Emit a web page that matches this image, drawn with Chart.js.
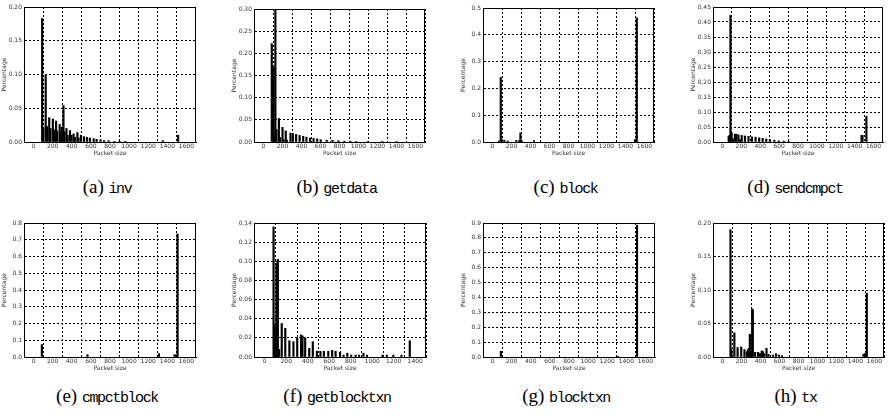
<!DOCTYPE html>
<html>
<head>
<meta charset="utf-8">
<script src="https://cdn.jsdelivr.net/npm/chart.js@4.4.1/dist/chart.umd.min.js"></script>
<style>
  body { margin: 0; background: #fff; width: 893px; height: 420px; position: relative; overflow: hidden; }
  canvas { position: absolute; }
  .cap { position: absolute; white-space: nowrap; transform: translateX(-50%); color: #000; line-height: 1; }
  .cap .s { font-family: "Liberation Serif", "DejaVu Serif", serif; font-size: 19px; }
  .cap .m { font-family: "Liberation Mono", "DejaVu Sans Mono", monospace; font-size: 15px; letter-spacing: -1.4px; }
</style>
</head>
<body>
<script>
// packet size (bytes) / share of packets
const invSize = [90,102,127,143,164,177,202,217,236,248,273,285,295,313,322,344,357,381,397,419,434,459,471,496,527,558,589,629,660,701,738,785,846,900,960,1352,1513];
const invPct  = [0.183,0.022,0.099,0.023,0.036,0.020,0.034,0.018,0.031,0.016,0.026,0.013,0.022,0.054,0.015,0.020,0.010,0.017,0.010,0.012,0.007,0.014,0.006,0.010,0.008,0.007,0.006,0.005,0.004,0.003,0.002,0.002,0.001,0.001,0.001,0.002,0.010];

const getdataSize = [87,97,106,115,125,137,162,175,200,212,234,247,284,309,343,380,418,452,490,527,565,602,665,727,789,852,914,976,1100,1250,1400];
const getdataPct  = [0.222,0.171,0.169,0.015,0.300,0.028,0.053,0.010,0.033,0.005,0.025,0.004,0.020,0.019,0.017,0.015,0.013,0.011,0.009,0.008,0.007,0.005,0.004,0.004,0.003,0.002,0.002,0.001,0.001,0.001,0.001];

const blockSize = [70,87,100,125,160,250,281,294,306,437,1500,1519];
const blockPct  = [0.004,0.241,0.009,0.006,0.004,0.006,0.005,0.034,0.006,0.005,0.009,0.463];

const sendcmpctSize = [66,75,85,97,110,132,147,169,188,204,238,276,313,351,389,426,464,502,549,596,650,700,1473,1483,1524];
const sendcmpctPct  = [0.019,0.022,0.422,0.031,0.011,0.026,0.026,0.024,0.008,0.022,0.020,0.019,0.017,0.016,0.014,0.012,0.010,0.008,0.006,0.004,0.003,0.002,0.022,0.022,0.086];

const cmpctblockSize = [87,564,1312,1476,1488,1507];
const cmpctblockPct  = [0.074,0.014,0.020,0.014,0.010,0.734];

const getblocktxnSize = [82,93,104,109,114,122,134,158,191,229,267,302,338,351,376,414,447,485,518,550,591,627,659,700,733,768,804,845,877,918,951,1095,1136,1196,1272,1349];
const getblocktxnPct  = [0.136,0.034,0.011,0.098,0.074,0.102,0.008,0.035,0.030,0.017,0.016,0.020,0.023,0.022,0.020,0.009,0.016,0.006,0.006,0.006,0.006,0.007,0.006,0.005,0.002,0.004,0.002,0.002,0.002,0.004,0.002,0.002,0.002,0.002,0.002,0.017];

const blocktxnSize = [87,1314,1512];
const blocktxnPct  = [0.038,0.005,0.885];

const txSize = [84,94,125,159,197,231,256,269,278,288,297,313,319,344,375,394,413,425,438,463,484,531,563,594,625,1484,1500,1519];
const txPct  = [0.190,0.011,0.036,0.014,0.015,0.011,0.008,0.011,0.013,0.034,0.008,0.072,0.070,0.007,0.007,0.005,0.009,0.008,0.005,0.013,0.004,0.003,0.005,0.003,0.002,0.004,0.005,0.095];

// frame round the plot area, like matplotlib's axes box
const boxPlugin = {
    id: 'box',
    afterDraw(chart) {
        const a = chart.chartArea, ctx = chart.ctx;
        ctx.save();
        ctx.strokeStyle = '#000';
        ctx.lineWidth = 1;
        ctx.strokeRect(Math.round(a.left) + 0.5, Math.round(a.top) + 0.5,
            Math.round(a.right - a.left) - 1, Math.round(a.bottom - a.top));
        ctx.restore();
    }
};

const Y_W = 26, X_H = 15, PAD_T = 6, PAD_R = 8;
const tickFont = { family: 'DejaVu Sans', size: 6 };

function createPanel(plot, sizes, pcts, yMax, yStep, dec, xMax, letter, name) {
    const [L, T, R, B] = plot;
    const canvas = document.createElement('canvas');
    canvas.width = (R - L) + Y_W + PAD_R;
    canvas.height = (B - T) + PAD_T + X_H;
    canvas.style.left = (L - Y_W) + 'px';
    canvas.style.top = (T - PAD_T) + 'px';
    document.body.appendChild(canvas);

    const cap = document.createElement('div');
    cap.className = 'cap';
    cap.style.left = ((L + R) / 2 - 3) + 'px';
    cap.style.top = (T < 100 ? 177 : 386) + 'px';
    cap.innerHTML = '<span class="s">(' + letter + ') </span><span class="m">' + name + '</span>';
    document.body.appendChild(cap);

    return new Chart(canvas, {
        type: 'bar',
        data: {
            datasets: [{
                data: sizes.map((s, i) => ({ x: s, y: pcts[i] })),
                backgroundColor: '#000',
                borderWidth: 0,
                barThickness: 1.5
            }]
        },
        options: {
            responsive: false,
            animation: false,
            events: [],
            layout: { autoPadding: false, padding: { top: PAD_T, right: PAD_R, left: 0, bottom: 0 } },
            plugins: { legend: { display: false }, tooltip: { enabled: false } },
            scales: {
                x: {
                    type: 'linear',
                    min: 0,
                    max: xMax,
                    afterFit: s => { s.height = X_H; },
                    ticks: { stepSize: 200, autoSkip: false, maxRotation: 0, padding: 1, font: tickFont, color: '#333',
                        callback: v => String(v) },
                    grid: { color: '#000', lineWidth: 1, drawTicks: false },
                    border: { display: true, color: '#000', dash: [2, 2] },
                    title: { display: true, text: 'Packet size', font: tickFont, color: '#333', padding: { top: 0, bottom: 0 } }
                },
                y: {
                    min: 0,
                    max: yMax,
                    afterFit: s => { s.width = Y_W; },
                    ticks: { stepSize: yStep, padding: 2, font: tickFont, color: '#333',
                        callback: v => v.toFixed(dec) },
                    grid: { color: '#000', lineWidth: 1, drawTicks: false },
                    border: { display: true, color: '#000', dash: [2, 2] },
                    title: { display: true, text: 'Percentage', font: tickFont, color: '#333', padding: { top: 3, bottom: 0 } }
                }
            }
        },
        plugins: [boxPlugin]
    });
}

createPanel([24, 7, 196, 142], invSize, invPct, 0.20, 0.05, 2, 1600, 'a', 'inv');
createPanel([254, 9, 425, 142], getdataSize, getdataPct, 0.30, 0.05, 2, 1600, 'b', 'getdata');
createPanel([483, 8, 654, 142], blockSize, blockPct, 0.5, 0.1, 1, 1600, 'c', 'block');
createPanel([713, 7, 883, 142], sendcmpctSize, sendcmpctPct, 0.45, 0.05, 2, 1600, 'd', 'sendcmpct');
createPanel([24, 223, 196, 357], cmpctblockSize, cmpctblockPct, 0.8, 0.1, 1, 1600, 'e', 'cmpctblock');
createPanel([254, 223, 426, 357], getblocktxnSize, getblocktxnPct, 0.14, 0.02, 2, 1400, 'f', 'getblocktxn');
createPanel([483, 223, 655, 357], blocktxnSize, blocktxnPct, 0.9, 0.1, 1, 1600, 'g', 'blocktxn');
createPanel([713, 223, 884, 357], txSize, txPct, 0.20, 0.05, 2, 1600, 'h', 'tx');
</script>
</body>
</html>
